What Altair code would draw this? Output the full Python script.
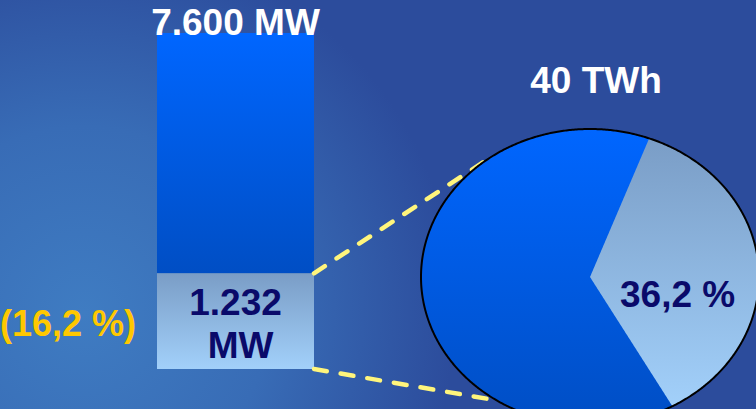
import math
import altair as alt
import pandas as pd

# Installed capacity (MW): whole system and the highlighted part
capacity_parts = ["total", "part"]
capacity_mw = [7600, 1232]

# Annual energy (TWh) and the highlighted share of it (%)
energy_twh = [40]
energy_share_pct = [36.2]

W, H = 756, 409
FONT = "Liberation Sans"
NAVY = "#0a0a6a"
WHITE = "#ffffff"
GOLD = "#ffc800"
DASH = "#fff57c"
BG = "#2c4c9c"

# Bar geometry (pixels)
BAR_X0, BAR_X1 = 157, 314
BAR_BOTTOM, BAR_TOP = 369, 33
BAR_XC = (BAR_X0 + BAR_X1) / 2

# Elliptical pie geometry (pixels)
CX, CY, RX, RY = 590, 277, 169, 148
START_DEG = 20.5  # where the highlighted slice begins, clockwise from 12 o'clock


def de_num(v, decimals=0):
    s = f"{v:,.{decimals}f}"
    return s.replace(",", "X").replace(".", ",").replace("X", ".")


total_mw, part_mw = capacity_mw
share = energy_share_pct[0]
part_pct = part_mw / total_mw * 100

yscale = alt.Scale(type="pow", exponent=0.69, domain=[0, total_mw],
                   range=[BAR_BOTTOM, BAR_TOP], nice=False, zero=True)

grad_blue = alt.Gradient(gradient="linear", x1=0, y1=0, x2=0, y2=1,
                         stops=[alt.GradientStop(color="#0066ff", offset=0),
                                alt.GradientStop(color="#004ec4", offset=1)])
grad_light = alt.Gradient(gradient="linear", x1=0, y1=0, x2=0, y2=1,
                          stops=[alt.GradientStop(color="#7a9dc6", offset=0),
                                 alt.GradientStop(color="#a2d0fa", offset=1)])
grad_water = alt.Gradient(gradient="radial", x1=0.14, y1=0.68, r1=0,
                          x2=0.14, y2=0.68, r2=0.62,
                          stops=[alt.GradientStop(color="#3f7cc2", offset=0),
                                 alt.GradientStop(color="#386cb6", offset=0.5),
                                 alt.GradientStop(color=BG, offset=1)])

one = pd.DataFrame({"k": [0]})

# Lighter water texture behind the left part
water = alt.Chart(one).mark_rect(color=grad_water).encode(
    x=alt.value(0), x2=alt.value(600), y=alt.value(0), y2=alt.value(H))

bars = pd.DataFrame({
    "part": capacity_parts,
    "y0": [part_mw, 0],
    "y1": [total_mw, part_mw],
})

bar_upper = alt.Chart(bars).transform_filter("datum.part == 'total'").mark_rect(
    color=grad_blue).encode(
    x=alt.value(BAR_X0), x2=alt.value(BAR_X1),
    y=alt.Y("y0:Q", scale=yscale, axis=None), y2="y1:Q")

bar_lower = alt.Chart(bars).transform_filter("datum.part == 'part'").mark_rect(
    color=grad_light).encode(
    x=alt.value(BAR_X0), x2=alt.value(BAR_X1),
    y=alt.Y("y0:Q", scale=yscale, axis=None), y2="y1:Q")

top_lbl = pd.DataFrame({"v": [total_mw], "label": [f"{de_num(total_mw)} MW"]})
part_num = pd.DataFrame({"v": [part_mw], "label": [de_num(part_mw)]})
part_unit = pd.DataFrame({"v": [part_mw], "label": ["MW"]})
part_pct_lbl = pd.DataFrame({"v": [part_mw], "label": [f"({de_num(part_pct, 1)} %)"]})


def bar_text(df, color, dy, x, align="center", dx=0, size=37):
    return alt.Chart(df).mark_text(
        font=FONT, fontWeight="bold", fontSize=size, align=align,
        baseline="alphabetic", color=color, dy=dy, dx=dx).encode(
        x=alt.value(x), y=alt.Y("v:Q", scale=yscale, axis=None), text="label:N")


t_total = bar_text(top_lbl, WHITE, 2, BAR_XC)
t_part = bar_text(part_num, NAVY, 42, BAR_XC)
t_unit = bar_text(part_unit, NAVY, 85, BAR_XC, dx=5)
t_pct = bar_text(part_pct_lbl, GOLD, 63, BAR_X0, align="right", dx=-21, size=36)


def ellipse_point(deg):
    a = math.radians(deg)
    return CX + RX * math.sin(a), CY - RY * math.cos(a)


# Dashed connectors from the bar segment edges to the pie
connectors = []
for val, deg in [(part_mw, 321.5), (0, 213.5)]:
    ex, ey = ellipse_point(deg)
    connectors.append(
        alt.Chart(pd.DataFrame({"v": [val]})).mark_rule(
            color=DASH, strokeWidth=4.5, strokeDash=[13, 14], strokeCap="round").encode(
            x=alt.value(BAR_X1), x2=alt.value(ex),
            y=alt.Y("v:Q", scale=yscale, axis=None), y2=alt.value(ey)))

# Full ellipse (the remaining share)
pie_full = (alt.Chart(alt.sequence(-1, 1.001, 0.002, as_="s"))
            .transform_calculate(u="clamp(datum.s, -1, 1)")
            .transform_calculate(r="sqrt(max(0, 1 - datum.u * datum.u))")
            .transform_calculate(px=f"{CX} + {RX} * datum.u")
            .transform_calculate(top=f"{CY} - {RY} * datum.r")
            .transform_calculate(bot=f"{CY} + {RY} * datum.r")
            .mark_area(color=grad_blue, orient="vertical")
            .encode(x=alt.X("px:Q", scale=None, axis=None),
                    y=alt.Y("top:Q", scale=None, axis=None), y2="bot:Q"))

# Highlighted slice, bounded by the two rays and the ellipse
phi1 = math.radians(START_DEG)
phi2 = math.radians(START_DEG + share * 3.6)
c1 = math.cos(phi1) / math.sin(phi1)
c2 = math.cos(phi2) / math.sin(phi2)
pie_slice = (alt.Chart(alt.sequence(0, 1.001, 0.002, as_="s"))
             .transform_calculate(u="clamp(datum.s, 0, 1)")
             .transform_calculate(r="sqrt(max(0, 1 - datum.u * datum.u))")
             .transform_calculate(px=f"{CX} + {RX} * datum.u")
             .transform_calculate(top=f"{CY} + {RY} * max(-datum.u * {c1}, -datum.r)")
             .transform_calculate(bot=f"{CY} + {RY} * min(-datum.u * {c2}, datum.r)")
             .mark_area(color=grad_light, orient="vertical")
             .encode(x=alt.X("px:Q", scale=None, axis=None),
                     y=alt.Y("top:Q", scale=None, axis=None), y2="bot:Q"))

pie_outline = (alt.Chart(alt.sequence(0, 360.5, 0.5, as_="deg"))
               .transform_calculate(ox=f"{CX} + {RX} * sin(datum.deg * PI / 180)")
               .transform_calculate(oy=f"{CY} - {RY} * cos(datum.deg * PI / 180)")
               .mark_line(color="black", strokeWidth=2)
               .encode(x=alt.X("ox:Q", scale=None, axis=None),
                       y=alt.Y("oy:Q", scale=None, axis=None),
                       order="deg:Q"))

mid = math.radians(START_DEG + share * 1.8)
share_lbl = pd.DataFrame({"label": [f"{de_num(share, 1)} %"]})
t_share = alt.Chart(share_lbl).mark_text(
    font=FONT, fontWeight="bold", fontSize=37, align="center",
    baseline="alphabetic", color=NAVY).encode(
    x=alt.value(CX + RX * 0.52 * math.sin(mid)), y=alt.value(CY + 30), text="label:N")

energy_lbl = pd.DataFrame({"label": [f"{energy_twh[0]} TWh"]})
t_energy = alt.Chart(energy_lbl).mark_text(
    font=FONT, fontWeight="bold", fontSize=37, align="center",
    baseline="alphabetic", color=WHITE).encode(
    x=alt.value(CX + 6), y=alt.value(CY - RY - 36), text="label:N")

chart = alt.layer(
    water, bar_upper, bar_lower, *connectors,
    pie_full, pie_slice, pie_outline,
    t_total, t_part, t_unit, t_pct, t_share, t_energy,
).resolve_scale(x="independent", y="independent").properties(
    width=W, height=H, padding=0, autosize="none", background=BG
).configure_view(stroke=None)

chart.save("out.html", embed_options={"renderer": "svg", "actions": False})
